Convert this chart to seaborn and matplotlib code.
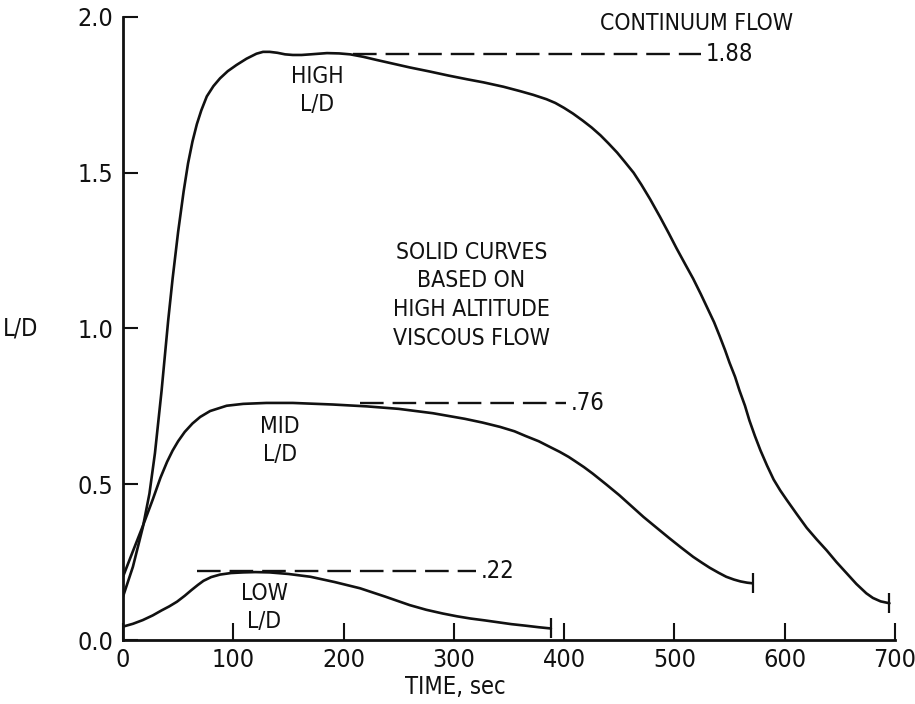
import matplotlib
matplotlib.use("Agg")
import matplotlib.pyplot as plt
from matplotlib import font_manager
import seaborn as sns
import pandas as pd

# ---------------- data ----------------
high_t = [0, 9, 18, 24, 29, 35, 41, 45, 50, 55, 59, 63, 67, 71, 76, 82, 88, 95, 103, 112,
          121, 127, 133, 140, 147, 154, 162, 170, 185, 196, 206, 218, 230, 245, 260, 278,
          295, 312, 327, 345, 360, 372, 384, 392, 400, 408, 417, 425, 433, 440, 448, 455,
          463, 470, 478, 487, 495, 502, 510, 517, 524, 530, 536, 541, 546, 550, 555, 559,
          564, 568, 573, 578, 584, 590, 596, 602, 611, 620, 629, 638, 647, 656, 665, 674,
          680, 687, 695]
high_y = [0.139, 0.235, 0.362, 0.47, 0.60, 0.80, 1.026, 1.16, 1.31, 1.44, 1.53, 1.60, 1.656,
          1.70, 1.745, 1.778, 1.803, 1.826, 1.846, 1.866, 1.882, 1.888, 1.888, 1.885, 1.880,
          1.878, 1.878, 1.880, 1.884, 1.883, 1.880, 1.872, 1.862, 1.850, 1.838, 1.825, 1.812,
          1.800, 1.790, 1.776, 1.762, 1.750, 1.736, 1.724, 1.708, 1.690, 1.667, 1.645, 1.620,
          1.595, 1.565, 1.535, 1.500, 1.462, 1.415, 1.358, 1.305, 1.257, 1.205, 1.160, 1.110,
          1.065, 1.020, 0.976, 0.930, 0.890, 0.845, 0.801, 0.752, 0.705, 0.655, 0.609, 0.560,
          0.515, 0.480, 0.449, 0.404, 0.360, 0.323, 0.288, 0.250, 0.215, 0.180, 0.150, 0.135,
          0.124, 0.118]

mid_t = [0, 9, 18, 27, 34, 40, 45, 50, 56, 63, 70, 79, 94, 109, 130, 154, 190, 221, 250,
         281, 310, 326, 342, 355, 365, 377, 387, 396, 404, 410, 418, 426, 438, 450, 461, 472,
         484, 495, 506, 517, 525, 532, 540, 547, 554, 560, 566, 571]
mid_y = [0.203, 0.285, 0.366, 0.451, 0.521, 0.572, 0.608, 0.638, 0.668, 0.695, 0.716, 0.735,
         0.752, 0.758, 0.761, 0.761, 0.756, 0.750, 0.742, 0.728, 0.710, 0.698, 0.684, 0.670,
         0.655, 0.638, 0.620, 0.604, 0.588, 0.574, 0.555, 0.534, 0.500, 0.465, 0.430, 0.395,
         0.360, 0.328, 0.297, 0.267, 0.248, 0.232, 0.216, 0.203, 0.194, 0.188, 0.184, 0.182]

low_t = [0, 9, 18, 27, 35, 42, 49, 56, 62, 68, 73, 80, 88, 98, 109, 120, 133, 150, 170, 192,
         215, 238, 260, 275, 290, 303, 315, 328, 340, 352, 365, 377, 388]
low_y = [0.043, 0.052, 0.064, 0.079, 0.095, 0.108, 0.123, 0.142, 0.160, 0.177, 0.190, 0.202,
         0.210, 0.215, 0.217, 0.218, 0.217, 0.212, 0.203, 0.186, 0.166, 0.139, 0.112, 0.097,
         0.085, 0.076, 0.069, 0.063, 0.057, 0.051, 0.046, 0.041, 0.037]

# continuum-flow reference levels: (value, start time, end time, label)
cont_values = [1.88, 0.76, 0.22]
cont_start = [209, 215, 67]
cont_end = [524, 402, 320]
cont_labels = ["1.88", ".76", ".22"]

x_ticks = [0, 100, 200, 300, 400, 500, 600, 700]
x_ticklabels = ["0", "100", "200", "300", "400", "500", "600", "700"]
y_ticks = [0.0, 0.5, 1.0, 1.5, 2.0]
y_ticklabels = ["0.0", "0.5", "1.0", "1.5", "2.0"]

# ---------------- style ----------------
sns.set_style("ticks")
names = {f.name for f in font_manager.fontManager.ttflist}
if "Liberation Sans Narrow" in names:
    plt.rcParams["font.family"] = ["Liberation Sans Narrow", "DejaVu Sans"]
    stretch = "normal"
else:
    plt.rcParams["font.family"] = ["DejaVu Sans"]
    stretch = "condensed"
plt.rcParams["font.stretch"] = stretch
plt.rcParams["text.color"] = "black"

INK = "#111111"
LW = 1.9

fig = plt.figure(figsize=(9.15, 7.04), dpi=100)
ax = fig.add_axes([0.1344, 0.0909, 0.8437, 0.885])

curves = pd.concat([
    pd.DataFrame({"t": high_t, "ld": high_y, "curve": "HIGH"}),
    pd.DataFrame({"t": mid_t, "ld": mid_y, "curve": "MID"}),
    pd.DataFrame({"t": low_t, "ld": low_y, "curve": "LOW"}),
])
for name, grp in curves.groupby("curve"):
    sns.lineplot(data=grp, x="t", y="ld", ax=ax, color=INK, linewidth=LW,
                 sort=False, estimator=None)
    ax.lines[-1].set_solid_joinstyle("round")
    # end-of-trajectory bar
    ax.plot([grp["t"].iloc[-1]], [grp["ld"].iloc[-1]], marker="|", ms=15,
            mew=1.6, color=INK, linestyle="none")

for v, s, e, lab in zip(cont_values, cont_start, cont_end, cont_labels):
    ref = pd.DataFrame({"t": [s, e], "ld": [v, v]})
    sns.lineplot(data=ref, x="t", y="ld", ax=ax, color=INK, linewidth=1.7,
                 dashes=False, estimator=None)
    ax.lines[-1].set_dashes((10, 3.8))
    ax.text(e + 4, v, lab, fontsize=17, ha="left", va="center", color=INK)

# annotations
ax.text(176, 1.763, "HIGH\nL/D", fontsize=16.5, ha="center", va="center",
        linespacing=1.3, color=INK)
ax.text(142, 0.641, "MID\nL/D", fontsize=16.5, ha="center", va="center",
        linespacing=1.3, color=INK)
ax.text(128, 0.104, "LOW\nL/D", fontsize=16.5, ha="center", va="center",
        linespacing=1.3, color=INK)
ax.text(316, 1.106, "SOLID CURVES\nBASED ON\nHIGH ALTITUDE\nVISCOUS FLOW", fontsize=16.5,
        ha="center", va="center", linespacing=1.33, color=INK)
ax.text(520, 1.98, "CONTINUUM FLOW", fontsize=16.5, ha="center", va="center", color=INK)

# axes
ax.set_xlim(0, 700)
ax.set_ylim(0, 2.0)
ax.set_xticks(x_ticks)
ax.set_xticklabels(x_ticklabels)
ax.set_yticks(y_ticks)
ax.set_yticklabels(y_ticklabels)
ax.tick_params(axis="x", direction="in", length=12, width=1.5, pad=6,
               labelsize=18, colors=INK)
ax.tick_params(axis="y", direction="in", length=11, width=1.5, pad=7,
               labelsize=18, colors=INK)
sns.despine(ax=ax)
for sp in ("left", "bottom"):
    ax.spines[sp].set_linewidth(2)
    ax.spines[sp].set_color(INK)

ax.set_xlabel("TIME, sec", fontsize=17, color=INK)
ax.xaxis.label.set_va("center")
ax.xaxis.set_label_coords(0.43, -0.075)
ax.set_ylabel("L/D", fontsize=17, rotation=0, color=INK)
ax.yaxis.label.set_va("center")
ax.yaxis.label.set_ha("center")
ax.yaxis.set_label_coords(-0.133, 0.5)

fig.savefig("out.png", dpi=100, facecolor="white")
